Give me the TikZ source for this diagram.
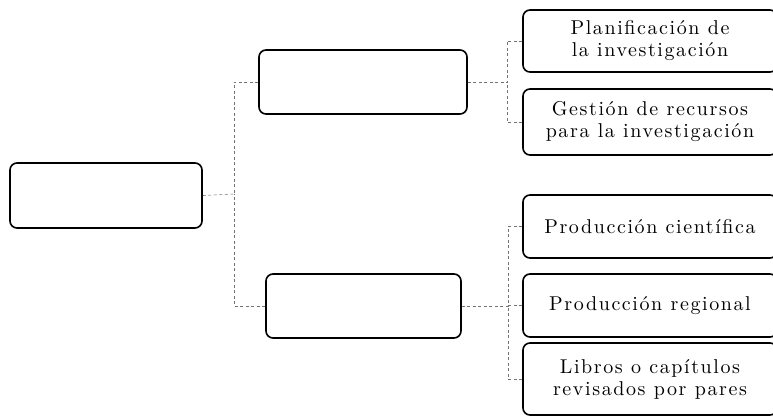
\documentclass[tikz,border=0pt]{standalone}
\usepackage{fontspec}
\newfontfamily\widefont{lmroman10-regular.otf}[LetterSpace=8]
\begin{document}
\begin{tikzpicture}[x=1pt,y=-1pt,
  box/.style={draw=black, line width=1.6pt, rounded corners=7pt, inner sep=0pt, align=center,
    font=\widefont\fontsize{20}{22}\selectfont},
  conn/.style={draw=black!55, line width=0.6pt, dash pattern=on 3pt off 2.5pt}]
\useasboundingbox (0,0) rectangle (773,417);
% left level
\node[box, minimum width=192pt, minimum height=65pt] (root) at (106,195.5) {};
\node[box, minimum width=208pt, minimum height=64pt] (A) at (363,82) {};
\node[box, minimum width=195pt, minimum height=64pt] (B) at (363.5,306) {};
% right level
\node[box, minimum width=254pt, minimum height=62pt] (R1) at (650,41) {Planificación de\\la investigación};
\node[box, minimum width=254pt, minimum height=66pt] (R2) at (650,122) {Gestión de recursos\\para la investigación};
\node[box, minimum width=254pt, minimum height=63pt] (R3) at (650,226.5) {Producción científica};
\node[box, minimum width=254pt, minimum height=63pt] (R4) at (650,305.5) {Producción regional};
\node[box, minimum width=254pt, minimum height=72pt] (R5) at (650,379) {Libros o capítulos\\revisados por pares};
% junctions
\coordinate (j1) at (234,194);
\coordinate (j2) at (507,82);
\coordinate (j3) at (508,306);
% connectors
\draw[conn] (root.east) -- (j1);
\draw[conn] (A.west) -| (j1);
\draw[conn] (B.west) -| (j1);
\draw[conn] (A.east) -- (j2);
\draw[conn] (R1.west) -| (j2);
\draw[conn] (R2.west) -| (j2);
\draw[conn] (B.east) -- (j3);
\draw[conn] (R3.west) -| (j3);
\draw[conn] (R4.west) -| (j3);
\draw[conn] (R5.west) -| (j3);
\end{tikzpicture}
\end{document}
